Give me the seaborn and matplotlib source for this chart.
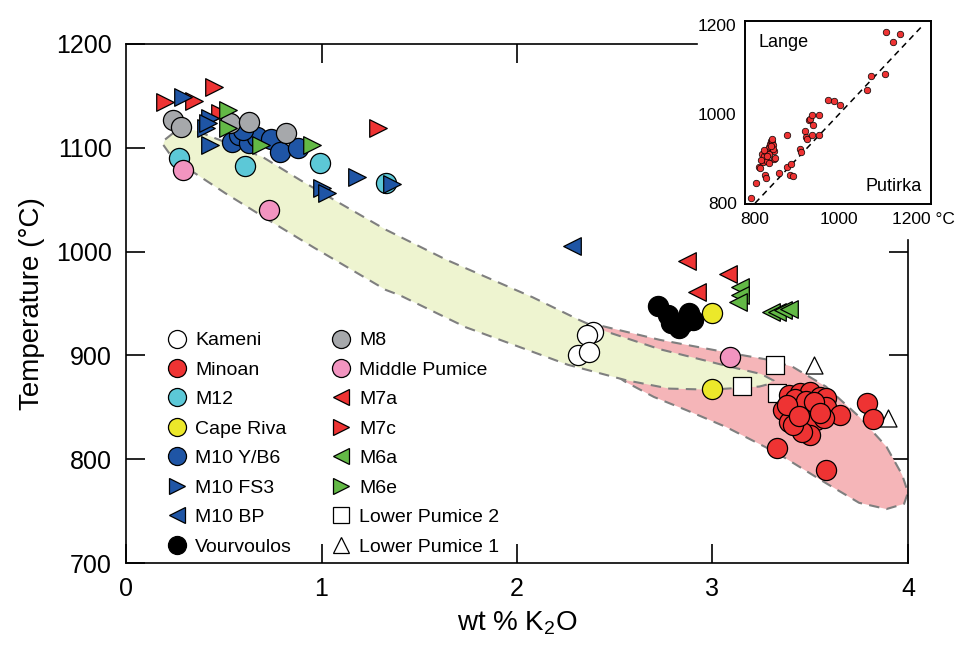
import matplotlib
matplotlib.use("Agg")
import matplotlib.pyplot as plt
from matplotlib.lines import Line2D
import pandas as pd
import seaborn as sns

# ---- sample compositions (wt % K2O) and temperatures (°C) ----
kameni_k2o = [2.39, 2.36, 2.31, 2.37]
kameni_t = [923, 920, 900, 903]

minoan_k2o = [3.39, 3.45, 3.50, 3.55, 3.58, 3.36, 3.43, 3.47, 3.53, 3.58, 3.65,
              3.39, 3.46, 3.53, 3.50, 3.46, 3.57, 3.41, 3.42, 3.48, 3.52, 3.38,
              3.44, 3.55, 3.79, 3.82, 3.33, 3.58]
minoan_t = [862, 864, 865, 860, 859, 847, 850, 849, 847, 850, 843,
            836, 835, 838, 823, 826, 840, 833, 858, 856, 855, 852,
            842, 845, 854, 839, 811, 790]

m12_k2o = [0.27, 0.61, 0.99, 1.33]
m12_t = [1090, 1082, 1085, 1066]

cape_riva_k2o = [3.00, 3.00]
cape_riva_t = [941, 868]

m10y_k2o = [0.54, 0.58, 0.63, 0.67, 0.74, 0.79, 0.88, 0.60]
m10y_t = [1106, 1112, 1105, 1110, 1108, 1096, 1100, 1117]

m10fs3_k2o = [0.29, 0.43, 0.41, 0.43, 0.42, 1.00, 1.03, 1.18, 1.36]
m10fs3_t = [1149, 1129, 1119, 1103, 1124, 1061, 1056, 1072, 1065]

m10bp_k2o = [2.28]
m10bp_t = [1005]

vourvoulos_k2o = [2.72, 2.77, 2.79, 2.85, 2.88, 2.90, 2.83]
vourvoulos_t = [948, 939, 931, 931, 941, 934, 926]

m8_k2o = [0.24, 0.28, 0.53, 0.63, 0.82]
m8_t = [1127, 1120, 1124, 1125, 1114]

middle_pumice_k2o = [0.29, 0.73, 3.09]
middle_pumice_t = [1079, 1040, 898]

m7a_k2o = [2.87, 3.08, 2.92]
m7a_t = [991, 978, 961]

m7c_k2o = [0.20, 0.35, 0.45, 0.48, 1.29]
m7c_t = [1144, 1145, 1159, 1134, 1119]

m6a_k2o = [3.14, 3.14, 3.13, 3.30, 3.33, 3.36, 3.39]
m6a_t = [966, 958, 951, 942, 942, 944, 945]

m6e_k2o = [0.52, 0.52, 0.69, 0.95]
m6e_t = [1136, 1119, 1103, 1103]

lower_pumice2_k2o = [3.15, 3.32, 3.33]
lower_pumice2_t = [871, 891, 864]

lower_pumice1_k2o = [3.52, 3.90]
lower_pumice1_t = [891, 840]

# ---- fields (outline vertices) ----
green_field_k2o = [0.20, 0.24, 0.35, 0.50, 0.70, 0.89, 1.09, 1.33, 1.64, 2.08, 2.32,
                   2.44, 2.73, 3.07, 3.25, 3.31, 3.28, 3.24, 2.99, 2.78, 2.56, 2.26,
                   1.74, 1.40, 1.33, 0.96, 0.75, 0.51, 0.30, 0.22, 0.19]
green_field_t = [1108, 1114, 1117, 1106, 1091, 1069, 1047, 1021, 992, 956, 934,
                 924, 906, 890, 882, 876, 872, 870, 867, 868, 876, 891,
                 927, 958, 963, 1004, 1028, 1056, 1082, 1095, 1103]

pink_field_k2o = [2.35, 2.42, 2.73, 3.07, 3.28, 3.41, 3.58, 3.75, 3.89, 3.97, 4.00,
                  3.98, 3.89, 3.75, 3.58, 3.33, 3.07, 2.87, 2.70, 2.55, 2.40]
pink_field_t = [925, 929, 915, 903, 896, 889, 870, 841, 812, 785, 768,
                757, 752, 758, 777, 806, 831, 847, 860, 875, 895]

# ---- inset: Putirka vs Lange thermometers ----
putirka_t = [790, 802, 809, 818, 817, 820, 823, 826, 828, 830, 833, 836, 838, 840,
             842, 845, 846, 848, 825, 832, 834, 839, 843, 812, 815, 821, 829, 837,
             856, 877, 875, 884, 886, 891, 907, 910, 918, 921, 924, 928, 931, 936,
             938, 936, 953, 953, 973, 987, 1002, 1067, 1075, 1109, 1111, 1129, 1144]
lange_t = [812, 846, 882, 893, 911, 905, 863, 857, 895, 918, 925, 933, 940, 938,
           930, 918, 900, 901, 915, 890, 910, 945, 922, 878, 896, 920, 905, 928,
           868, 954, 881, 864, 888, 862, 922, 915, 961, 948, 945, 986, 990, 997,
           975, 953, 999, 953, 1032, 1029, 1021, 1054, 1085, 1090, 1184, 1161, 1179]
one_to_one = [800, 1200]

# ---- styles ----
groups = [
    ("Kameni", kameni_k2o, kameni_t, "o", "white", 210),
    ("Minoan", minoan_k2o, minoan_t, "o", "#ee3333", 210),
    ("M12", m12_k2o, m12_t, "o", "#5cc8d7", 210),
    ("Cape Riva", cape_riva_k2o, cape_riva_t, "o", "#ece82a", 210),
    ("M10 Y/B6", m10y_k2o, m10y_t, "o", "#1f55a5", 210),
    ("M10 FS3", m10fs3_k2o, m10fs3_t, ">", "#1f55a5", 160),
    ("M10 BP", m10bp_k2o, m10bp_t, "<", "#1f55a5", 160),
    ("Vourvoulos", vourvoulos_k2o, vourvoulos_t, "o", "black", 210),
    ("M8", m8_k2o, m8_t, "o", "#a6a8ab", 210),
    ("Middle Pumice", middle_pumice_k2o, middle_pumice_t, "o", "#f294c0", 210),
    ("M7a", m7a_k2o, m7a_t, "<", "#ee3333", 160),
    ("M7c", m7c_k2o, m7c_t, ">", "#ee3333", 160),
    ("M6a", m6a_k2o, m6a_t, "<", "#63b946", 160),
    ("M6e", m6e_k2o, m6e_t, ">", "#63b946", 160),
    ("Lower Pumice 2", lower_pumice2_k2o, lower_pumice2_t, "s", "white", 170),
    ("Lower Pumice 1", lower_pumice1_k2o, lower_pumice1_t, "^", "white", 150),
]
draw_order = ["Lower Pumice 2", "Lower Pumice 1", "Kameni", "Minoan", "Cape Riva",
              "Vourvoulos", "M12", "Middle Pumice", "M7c", "M10 Y/B6", "M8",
              "M10 FS3", "M10 BP", "M7a", "M6a", "M6e"]

sns.set_style("white")
plt.rcParams["font.family"] = ["Liberation Sans", "DejaVu Sans"]
plt.rcParams["mathtext.fontset"] = "custom"
plt.rcParams["mathtext.rm"] = "Liberation Sans"
plt.rcParams["text.color"] = "black"
plt.rcParams["axes.labelcolor"] = "black"

fig = plt.figure(figsize=(9.59, 6.45), dpi=100)
ax = fig.add_axes([0.1314, 0.1271, 0.8154, 0.8047])

# fields
pink = ax.fill(pink_field_k2o, pink_field_t, facecolor="#f5b5b8", edgecolor="#7f7f7f",
               linewidth=1.5, zorder=1)[0]
pink.set_linestyle((0, (5, 3.5)))
green = ax.fill(green_field_k2o, green_field_t, facecolor="#eef4d0", edgecolor="#7f7f7f",
                linewidth=1.5, zorder=1.1)[0]
green.set_linestyle((0, (5, 3.5)))

style = {g[0]: g for g in groups}
for name in draw_order:
    _, xs, ys, mk, col, size = style[name]
    df = pd.DataFrame({"k2o": xs, "temp": ys})
    sns.scatterplot(data=df, x="k2o", y="temp", marker=mk, color=col, s=size,
                    edgecolor="black", linewidth=0.9, ax=ax, zorder=3, legend=False)

ax.set_xlim(0, 4)
ax.set_ylim(700, 1200)
ax.set_xticks([0, 1, 2, 3, 4])
ax.set_yticks([700, 800, 900, 1000, 1100, 1200])
ax.tick_params(direction="in", length=14, width=1.2, labelsize=18, pad=10,
               top=True, right=True, bottom=True, left=True, colors="black")
for t, v in zip(ax.xaxis.get_major_ticks(), ax.get_xticks()):
    if v >= 3 or v == 0:
        t.tick2line.set_visible(False)
for t, v in zip(ax.yaxis.get_major_ticks(), ax.get_yticks()):
    if v >= 1100 or v == 700:
        t.tick2line.set_visible(False)
for sp in ax.spines.values():
    sp.set_color("black")
    sp.set_linewidth(1.2)
ax.spines["top"].set_bounds(0, 2.92)
ax.spines["right"].set_bounds(700, 1011)

ax.set_xlabel("wt % K$_2$O", fontsize=20, labelpad=6)
ax.set_ylabel("Temperature (°C)", fontsize=20, labelpad=8)

handles = [Line2D([], [], linestyle="none", marker=g[3], markerfacecolor=g[4],
                  markeredgecolor="black", markeredgewidth=0.9,
                  markersize=13 if g[3] == "o" else 12, label=g[0]) for g in groups]
ax.legend(handles=handles, ncol=2, loc="lower left", bbox_to_anchor=(0.035, -0.012),
          frameon=False, fontsize=14, handlelength=1.0, handletextpad=0.45,
          columnspacing=2.0, labelspacing=0.61, borderpad=0.2)

# inset
axi = fig.add_axes([0.7769, 0.6837, 0.194, 0.2837])
axi.set_facecolor("white")
axi.plot(one_to_one, one_to_one, linestyle=(0, (4, 3)), color="black", linewidth=1.1, zorder=2)
sns.scatterplot(x=putirka_t, y=lange_t, color="#ee3333", s=22, edgecolor="black",
                linewidth=0.5, ax=axi, zorder=3, legend=False)
axi.set_xlim(776, 1219)
axi.set_ylim(798, 1209)
axi.set_xticks([800, 1000, 1200])
axi.set_xticklabels(["800", "1000", "1200 °C"])
axi.set_yticks([800, 1000, 1200])
axi.tick_params(direction="in", length=5, width=1.2, labelsize=12.5, pad=6, colors="black")
for sp in axi.spines.values():
    sp.set_color("black")
    sp.set_linewidth(1.4)
axi.text(0.07, 0.93, "Lange", transform=axi.transAxes, fontsize=13, va="top", ha="left")
axi.text(0.95, 0.05, "Putirka", transform=axi.transAxes, fontsize=13, va="bottom", ha="right")

fig.savefig("out.png", dpi=100)
plt.close(fig)
